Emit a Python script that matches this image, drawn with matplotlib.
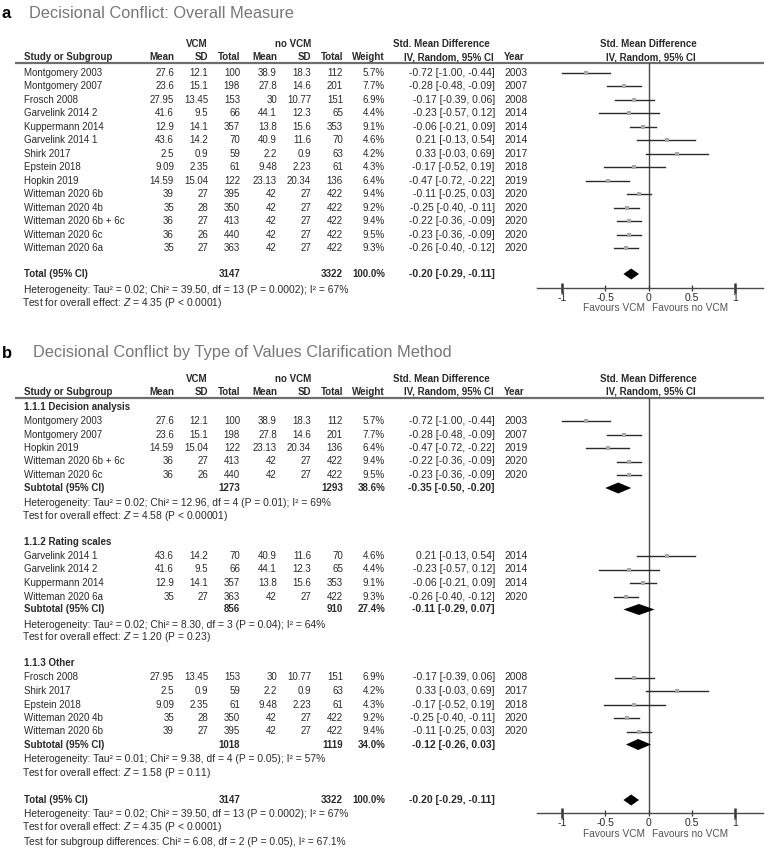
import matplotlib
matplotlib.use("Agg")
import matplotlib.pyplot as plt
from matplotlib.ticker import FixedLocator, FixedFormatter

plt.rcParams['font.family'] = ['Liberation Sans', 'DejaVu Sans']
plt.rcParams['mathtext.fontset'] = 'custom'
plt.rcParams['mathtext.it'] = 'Liberation Sans:italic'
plt.rcParams['mathtext.rm'] = 'Liberation Sans'

# ---------------- data ----------------
studies = ["Montgomery 2003", "Montgomery 2007", "Frosch 2008", "Garvelink 2014 2",
           "Kuppermann 2014", "Garvelink 2014 1", "Shirk 2017", "Epstein 2018",
           "Hopkin 2019", "Witteman 2020 6b", "Witteman 2020 4b",
           "Witteman 2020 6b + 6c", "Witteman 2020 6c", "Witteman 2020 6a"]
vcm_mean = ["27.6", "23.6", "27.95", "41.6", "12.9", "43.6", "2.5", "9.09", "14.59", "39", "35", "36", "36", "35"]
vcm_sd = ["12.1", "15.1", "13.45", "9.5", "14.1", "14.2", "0.9", "2.35", "15.04", "27", "28", "27", "26", "27"]
vcm_n = [100, 198, 153, 66, 357, 70, 59, 61, 122, 395, 350, 413, 440, 363]
ctl_mean = ["38.9", "27.8", "30", "44.1", "13.8", "40.9", "2.2", "9.48", "23.13", "42", "42", "42", "42", "42"]
ctl_sd = ["18.3", "14.6", "10.77", "12.3", "15.6", "11.6", "0.9", "2.23", "20.34", "27", "27", "27", "27", "27"]
ctl_n = [112, 201, 151, 65, 353, 70, 63, 61, 136, 422, 422, 422, 422, 422]
weights = [5.7, 7.7, 6.9, 4.4, 9.1, 4.6, 4.2, 4.3, 6.4, 9.4, 9.2, 9.4, 9.5, 9.3]
smd = [-0.72, -0.28, -0.17, -0.23, -0.06, 0.21, 0.33, -0.17, -0.47, -0.11, -0.25, -0.22, -0.23, -0.26]
ci_lo = [-1.00, -0.48, -0.39, -0.57, -0.21, -0.13, -0.03, -0.52, -0.72, -0.25, -0.40, -0.36, -0.36, -0.40]
ci_hi = [-0.44, -0.09, 0.06, 0.12, 0.09, 0.54, 0.69, 0.19, -0.22, 0.03, -0.11, -0.09, -0.09, -0.12]
years = [2003, 2007, 2008, 2014, 2014, 2014, 2017, 2018, 2019, 2020, 2020, 2020, 2020, 2020]

total_n = [3147, 3322]
total_est = [-0.20, -0.29, -0.11]
total_het = "Heterogeneity: Tau\u00b2 = 0.02; Chi\u00b2 = 39.50, df = 13 (P = 0.0002); I\u00b2 = 67%"
total_test = "Test for overall effect: $Z$ = 4.35 (P < 0.0001)"
subgroup_test = "Test for subgroup differences: Chi\u00b2 = 6.08, df = 2 (P = 0.05), I\u00b2 = 67.1%"

group_names = ["1.1.1 Decision analysis", "1.1.2 Rating scales", "1.1.3 Other"]
group_members = [["Montgomery 2003", "Montgomery 2007", "Hopkin 2019", "Witteman 2020 6b + 6c", "Witteman 2020 6c"],
                 ["Garvelink 2014 1", "Garvelink 2014 2", "Kuppermann 2014", "Witteman 2020 6a"],
                 ["Frosch 2008", "Shirk 2017", "Epstein 2018", "Witteman 2020 4b", "Witteman 2020 6b"]]
group_n = [[1273, 1293], [856, 910], [1018, 1119]]
group_weight = [38.6, 27.4, 34.0]
group_est = [[-0.35, -0.50, -0.20], [-0.11, -0.29, 0.07], [-0.12, -0.26, 0.03]]
group_het = ["Heterogeneity: Tau\u00b2 = 0.02; Chi\u00b2 = 12.96, df = 4 (P = 0.01); I\u00b2 = 69%",
             "Heterogeneity: Tau\u00b2 = 0.02; Chi\u00b2 = 8.30, df = 3 (P = 0.04); I\u00b2 = 64%",
             "Heterogeneity: Tau\u00b2 = 0.01; Chi\u00b2 = 9.38, df = 4 (P = 0.05); I\u00b2 = 57%"]
group_test = ["Test for overall effect: $Z$ = 4.58 (P < 0.00001)",
              "Test for overall effect: $Z$ = 1.20 (P = 0.23)",
              "Test for overall effect: $Z$ = 1.58 (P = 0.11)"]

tick_major = [-1, 1]
tick_minor = [-0.5, 0, 0.5]

# ---------------- layout ----------------
W, H = 775, 851
FS = 7.0       # table text
FS_HET = 7.4   # heterogeneity / test lines
FS_CI = 7.5    # CI column
TXT = '#2a2a2a'
fig = plt.figure(figsize=(W / 100, H / 100), dpi=100)
bg = fig.add_axes([0, 0, 1, 1])
bg.set_xlim(0, W)
bg.set_ylim(H, 0)
bg.axis('off')

X_NAME, X_M1, X_SD1, X_N1, X_M2, X_SD2, X_N2, X_W, X_CI, X_YR = 24, 174, 208, 240, 277, 311, 343, 385, 495, 504
X_MATH = 22.5  # mathtext lines carry a small left bearing
ZERO_PX, UNIT_PX = 648.5, 86.5
F_LEFT, F_RIGHT = 520, 775


def T(x, y, s, ha='left', bold=False, size=FS, color=TXT):
    bg.text(x, y, s, ha=ha, va='center', fontsize=size,
            fontweight='bold' if bold else 'normal', color=color)


def fmt_ci(e):
    return "%.2f [%.2f, %.2f]" % (e[0], e[1], e[2])


def header(y1, y2, yline):
    T(197, y1, "VCM", ha='center', bold=True)
    T(293, y1, "no VCM", ha='center', bold=True)
    T(441, y1, "Std. Mean Difference", ha='center', bold=True)
    T(648, y1, "Std. Mean Difference", ha='center', bold=True)
    T(X_NAME, y2, "Study or Subgroup", bold=True)
    for x, s in [(X_M1, "Mean"), (X_SD1, "SD"), (X_N1, "Total"), (X_M2, "Mean"),
                 (X_SD2, "SD"), (X_N2, "Total"), (X_W, "Weight")]:
        T(x, y2, s, ha='right', bold=True)
    T(449, y2, "IV, Random, 95% CI", ha='center', bold=True)
    T(X_YR, y2, "Year", bold=True)
    T(651, y2, "IV, Random, 95% CI", ha='center', bold=True)
    bg.plot([15, 764], [yline, yline], color='#6e6e6e', lw=1.6, solid_capstyle='butt')


def study_row(i, y):
    T(X_NAME, y, studies[i])
    T(X_M1, y, vcm_mean[i], ha='right')
    T(X_SD1, y, vcm_sd[i], ha='right')
    T(X_N1, y, str(vcm_n[i]), ha='right')
    T(X_M2, y, ctl_mean[i], ha='right')
    T(X_SD2, y, ctl_sd[i], ha='right')
    T(X_N2, y, str(ctl_n[i]), ha='right')
    T(X_W, y, "%.1f%%" % weights[i], ha='right')
    T(X_CI, y, fmt_ci((smd[i], ci_lo[i], ci_hi[i])), ha='right', size=FS_CI)
    T(X_YR, y, str(years[i]), size=FS_CI)


def forest_axes(ytop, yaxis):
    ax = fig.add_axes([F_LEFT / W, 1 - yaxis / H, (F_RIGHT - F_LEFT) / W, (yaxis - ytop) / H])
    ax.set_facecolor('none')
    ax.set_xlim((F_LEFT - ZERO_PX) / UNIT_PX, (F_RIGHT - ZERO_PX) / UNIT_PX)
    ax.set_ylim(yaxis, ytop)
    for s in ['top', 'right', 'left']:
        ax.spines[s].set_visible(False)
    ax.spines['bottom'].set_color('#4a4a4a')
    ax.spines['bottom'].set_linewidth(1.0)
    ax.spines['bottom'].set_bounds(-1.29, 1.32)
    ax.set_yticks([])
    ax.xaxis.set_major_locator(FixedLocator(tick_major))
    ax.xaxis.set_major_formatter(FixedFormatter([str(v) for v in tick_major]))
    ax.xaxis.set_minor_locator(FixedLocator(tick_minor))
    ax.xaxis.set_minor_formatter(FixedFormatter([("%g" % v) for v in tick_minor]))
    ax.tick_params(axis='x', which='major', direction='inout', length=7, width=1.8,
                   color='#333333', labelsize=FS + 0.5, labelcolor=TXT, pad=0)
    ax.tick_params(axis='x', which='minor', direction='inout', length=5, width=0.9,
                   color='#333333', labelsize=FS + 0.5, labelcolor=TXT, pad=0.8)
    ax.axvline(0, color='#4a4a4a', lw=1.0, zorder=1)
    return ax


def draw_study(ax, i, y):
    ax.plot([ci_lo[i], ci_hi[i]], [y, y], color='#2b2b2b', lw=1.0, zorder=2)
    ax.plot([smd[i]], [y], marker='s', ms=2.2, color='#a8a8a8', mew=0, zorder=3)


def draw_diamond(ax, e, y, h=5.5):
    ax.fill([e[1], e[0], e[2], e[0]], [y, y - h, y, y + h], color='black', lw=0, zorder=3)


def favours(y):
    T(645, y, "Favours VCM", ha='right', color='#555555', size=FS + 0.3)
    T(652, y, "Favours no VCM", ha='left', color='#555555', size=FS + 0.3)


def total_row(ax, yt):
    T(X_NAME, yt, "Total (95% CI)", bold=True)
    T(X_N1, yt, str(total_n[0]), ha='right', bold=True)
    T(X_N2, yt, str(total_n[1]), ha='right', bold=True)
    T(X_W, yt, "100.0%", ha='right', bold=True)
    T(X_CI, yt, fmt_ci(total_est), ha='right', bold=True, size=FS_CI)
    draw_diamond(ax, total_est, yt)


# ---------------- panel a ----------------
bg.text(2, 13, "a", fontsize=12, fontweight='bold', color='black', va='center')
bg.text(29, 13, "Decisional Conflict: Overall Measure", fontsize=11.8, color='#777777', va='center')
header(44, 57, 63)
axa = forest_axes(63, 288)
y0, dy = 73, 13.46
for i in range(len(studies)):
    y = y0 + i * dy
    study_row(i, y)
    draw_study(axa, i, y)
total_row(axa, 274)
T(X_NAME, 290, total_het, size=FS_HET)
T(X_MATH, 303, total_test, size=FS_HET)
favours(308)

# ---------------- panel b ----------------
bg.text(2, 353, "b", fontsize=12, fontweight='bold', color='black', va='center')
bg.text(33, 353, "Decisional Conflict by Type of Values Clarification Method", fontsize=11.8,
        color='#777777', va='center')
header(379, 392, 398)
axb = forest_axes(398, 813)
y = 407
for g in range(len(group_names)):
    T(X_NAME, y, group_names[g], bold=True)
    y += 14
    for name in group_members[g]:
        i = studies.index(name)
        study_row(i, y)
        draw_study(axb, i, y)
        y += 13.5
    y -= 0.5
    T(X_NAME, y, "Subtotal (95% CI)", bold=True)
    T(X_N1, y, str(group_n[g][0]), ha='right', bold=True)
    T(X_N2, y, str(group_n[g][1]), ha='right', bold=True)
    T(X_W, y, "%.1f%%" % group_weight[g], ha='right', bold=True)
    T(X_CI, y, fmt_ci(group_est[g]), ha='right', bold=True, size=FS_CI)
    draw_diamond(axb, group_est[g], y)
    y += 15
    T(X_NAME, y, group_het[g], size=FS_HET)
    y += 13
    T(X_MATH, y, group_test[g], size=FS_HET)
    y += 26
total_row(axb, 800)
T(X_NAME, 814, total_het, size=FS_HET)
T(X_MATH, 827, total_test, size=FS_HET)
T(X_NAME, 842, subgroup_test, size=FS_HET)
favours(834)

fig.savefig("out.png", dpi=100)
